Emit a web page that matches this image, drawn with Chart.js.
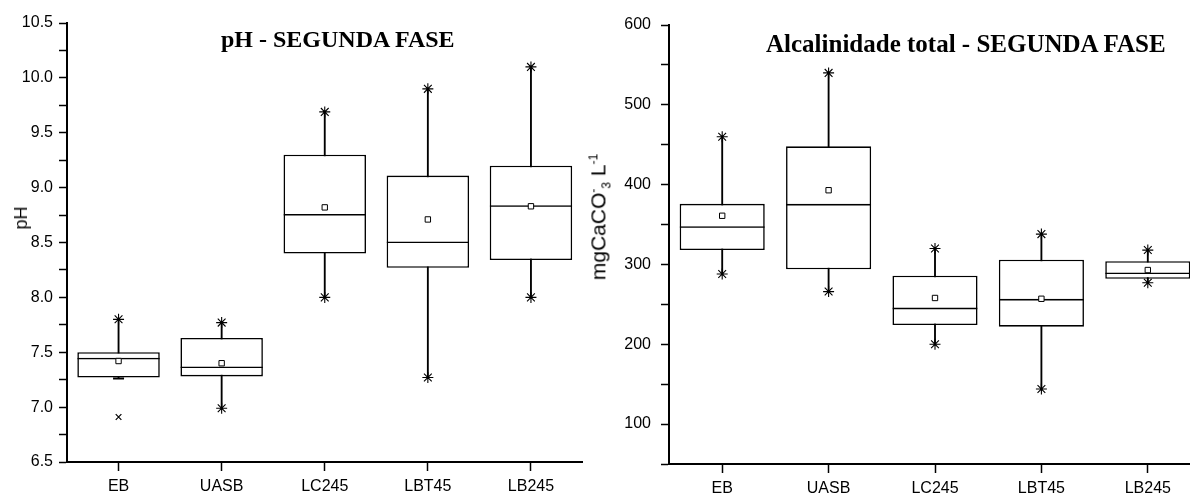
<!DOCTYPE html>
<html>
<head>
<meta charset="utf-8">
<title>pH e Alcalinidade - Segunda fase</title>
<script src="https://cdn.jsdelivr.net/npm/chart.js@4.4.1/dist/chart.umd.min.js"></script>
<style>
  html, body { margin: 0; padding: 0; background: #fff; width: 1190px; height: 494px; overflow: hidden; position: relative; }
  .panel { position: absolute; top: 0; height: 494px; }
  #p1 { left: 0; width: 590px; }
  #p2 { left: 590px; width: 620px; }
  .ttl { position: absolute; font-family: "Liberation Serif", "Times New Roman", serif; font-weight: bold; line-height: 1; color: #000; white-space: nowrap; }
  .ylab { position: absolute; font-family: "Liberation Sans", Arial, sans-serif; line-height: 1; color: #000; white-space: nowrap;
          transform: translate(-50%, -50%) rotate(-90deg); }
  .ylab sub, .ylab sup { font-size: 12px; }
</style>
</head>
<body>
<div class="panel" id="p1"><canvas id="phChart"></canvas></div>
<div class="panel" id="p2"><canvas id="alkChart"></canvas></div>

<div class="ttl" style="left:221px; top:27px; font-size:24px;">pH - SEGUNDA FASE</div>
<div class="ttl" style="left:766px; top:31px; font-size:25px;">Alcalinidade total - SEGUNDA FASE</div>
<div class="ylab" style="left:21px; top:218px; font-size:18px;">pH</div>
<div class="ylab" style="left:600px; top:217px; font-size:21px;">mgCaCO<sup>-</sup><sub>3</sub> L<sup>-1</sup></div>

<script>
// categorias (pontos de coleta)
var categories = ["EB", "UASB", "LC245", "LBT45", "LB245"];

// pH - segunda fase
var phMin    = [7.26, 6.99, 8.00, 7.27, 8.00];
var phQ1     = [7.27, 7.28, 8.40, 8.27, 8.34];
var phMedian = [7.45, 7.37, 8.76, 8.51, 8.84];
var phQ3     = [7.50, 7.63, 9.30, 9.11, 9.20];
var phMax    = [7.80, 7.77, 9.69, 9.90, 10.10];
var phMean   = [7.42, 7.40, 8.82, 8.71, 8.83];
var phOutlier = [6.91, null, null, null, null];
var phTickLabels = ["6.5", "7.0", "7.5", "8.0", "8.5", "9.0", "9.5", "10.0", "10.5"];

// alcalinidade total (mgCaCO3/L) - segunda fase
var alkMin    = [288, 266, 200, 144, 277];
var alkQ1     = [318, 294, 224, 222, 282];
var alkMedian = [348, 376, 246, 257, 290];
var alkQ3     = [376, 448, 286, 306, 304];
var alkMax    = [460, 540, 320, 338, 318];
var alkMean   = [361, 393, 258, 257, 293];
var alkOutlier = [null, null, null, null, null];
var alkTickLabels = ["100", "200", "300", "400", "500", "600"];

var FONT = "'Liberation Sans', Arial, sans-serif";

function boxChart(canvasId, s, yOpts, box) {
    var ctx = document.getElementById(canvasId);
    var lw = 1.6;

    var datasets = [
        {   // bigode min-max (fica atras da caixa)
            label: "whisker",
            data: s.min.map(function (v, i) { return [v, s.max[i]]; }),
            backgroundColor: "#000",
            barThickness: 1.2,
            grouped: false,
            order: 3
        },
        {   // caixa Q1-Q3
            label: "box",
            data: s.q1.map(function (v, i) { return [v, s.q3[i]]; }),
            backgroundColor: "#fff",
            borderColor: "#000",
            borderWidth: lw,
            borderSkipped: false,
            grouped: false,
            categoryPercentage: 1,
            barPercentage: 0.8,
            order: 2
        },
        {   // mediana = borda de cima da barra Q1-mediana
            label: "median",
            data: s.q1.map(function (v, i) { return [v, s.median[i]]; }),
            backgroundColor: "rgba(0,0,0,0)",
            borderColor: "#000",
            borderWidth: { top: lw, left: 0, right: 0, bottom: 0 },
            borderSkipped: false,
            grouped: false,
            categoryPercentage: 1,
            barPercentage: 0.8,
            order: 1
        },
        {
            type: "line", label: "max", data: s.max, showLine: false,
            pointStyle: "star", pointRadius: 5.5, borderColor: "#000", borderWidth: 1.1, order: 0
        },
        {
            type: "line", label: "min", data: s.min, showLine: false,
            pointStyle: s.min.map(function (v, i) { return (s.q1[i] - v) < (yOpts.max - yOpts.min) * 0.005 ? "line" : "star"; }),
            pointRadius: 5.5, borderColor: "#000",
            borderWidth: s.min.map(function (v, i) { return (s.q1[i] - v) < (yOpts.max - yOpts.min) * 0.005 ? 2 : 1.1; }),
            order: 0
        },
        {
            type: "line", label: "mean", data: s.mean, showLine: false,
            pointStyle: "rect", pointRadius: 3.8, backgroundColor: "#fff", borderColor: "#000", borderWidth: 1, order: 0
        },
        {
            type: "line", label: "outlier", data: s.outlier, showLine: false,
            pointStyle: "crossRot", pointRadius: 4, borderColor: "#000", borderWidth: 1.2, order: 0
        }
    ];

    return new Chart(ctx, {
        type: "bar",
        data: { labels: categories, datasets: datasets },
        options: {
            responsive: true,
            maintainAspectRatio: false,
            animation: false,
            events: [],
            layout: { padding: box.padding },
            plugins: { legend: { display: false }, tooltip: { enabled: false }, title: { display: false } },
            scales: {
                x: {
                    offset: true,
                    grid: { offset: false, drawOnChartArea: false, drawTicks: true, tickLength: 9, tickWidth: 1.5, tickColor: "#000" },
                    border: { color: "#000", width: 2 },
                    ticks: { color: "#000", font: { family: FONT, size: 16 }, padding: 6, autoSkip: false, maxRotation: 0 },
                    afterFit: function (scale) { scale.height = box.xHeight; }
                },
                y: {
                    min: yOpts.min,
                    max: yOpts.max,
                    grid: { drawOnChartArea: false, drawTicks: true, tickLength: 8, tickWidth: 1.5, tickColor: "#000" },
                    border: { color: "#000", width: 2 },
                    ticks: {
                        stepSize: yOpts.step,
                        autoSkip: false,
                        color: "#000",
                        font: { family: FONT, size: 16 },
                        padding: box.tickPad,
                        callback: function (value) {
                            var txt = yOpts.fmt(value);
                            return yOpts.labels.indexOf(txt) >= 0 ? txt : "";
                        }
                    },
                    afterFit: function (scale) { scale.width = box.yWidth; }
                }
            }
        }
    });
}

boxChart("phChart",
    { min: phMin, q1: phQ1, median: phMedian, q3: phQ3, max: phMax, mean: phMean, outlier: phOutlier },
    { min: 6.5, max: 10.5, step: 0.25, labels: phTickLabels, fmt: function (v) { return v.toFixed(1); } },
    { padding: { top: 23, right: 4, bottom: 0, left: 0 }, yWidth: 67, xHeight: 32, tickPad: 6 });

boxChart("alkChart",
    { min: alkMin, q1: alkQ1, median: alkMedian, q3: alkQ3, max: alkMax, mean: alkMean, outlier: alkOutlier },
    { min: 50, max: 600, step: 50, labels: alkTickLabels, fmt: function (v) { return String(Math.round(v)); } },
    { padding: { top: 25, right: 9, bottom: 0, left: 0 }, yWidth: 79, xHeight: 30, tickPad: 10 });
</script>
</body>
</html>
